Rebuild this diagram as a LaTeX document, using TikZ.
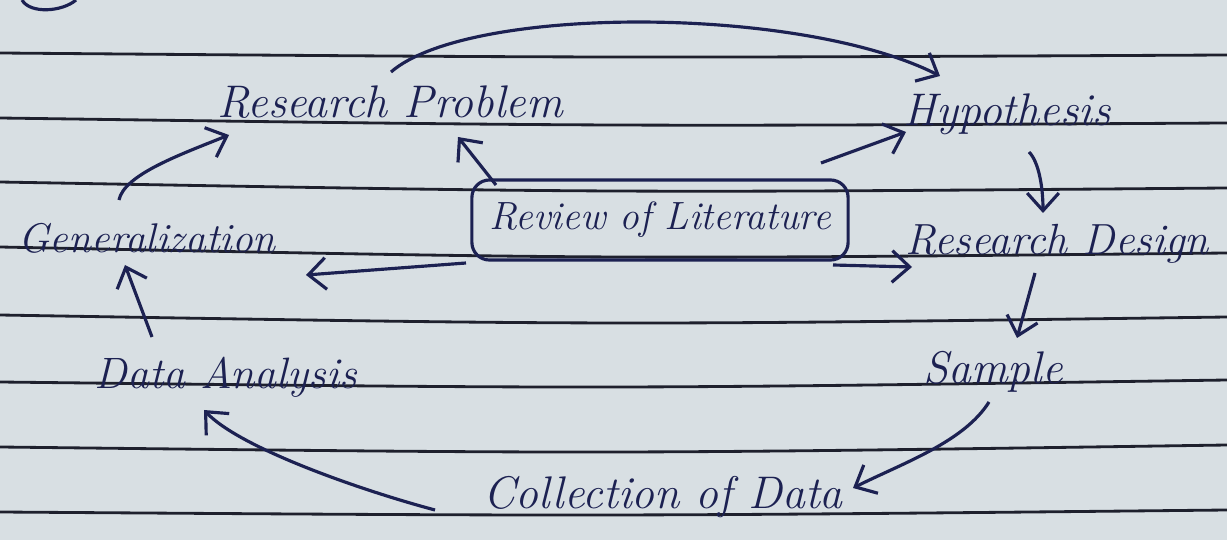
\documentclass[tikz,border=0pt]{standalone}
\usepackage{tikz}
\usetikzlibrary{arrows.meta,calc}
\definecolor{paper}{RGB}{216,223,227}
\definecolor{ink}{RGB}{28,33,82}
\definecolor{ruling}{RGB}{30,32,45}
\tikzset{>/.tip={Straight Barb[length=5pt,width=9pt]}}

\begin{document}
\begin{tikzpicture}[x=0.01cm,y=-0.01cm,
  stage/.style={text=ink, font=\fontsize{13}{15}\selectfont\itshape, inner sep=1pt},
  flow/.style={->, draw=ink, line width=0.9pt}]
\fill[paper] (0,0) rectangle (1227,540);
\useasboundingbox (0,0) rectangle (1227,540);
\foreach \a/\m/\c in {53/58/55, 118/126.5/123, 182/193/188, 247/259.3/253,
                      315/325.3/317, 382/389/380, 447/454/445, 512/516.3/510}
  \draw[ruling, line width=0.8pt] (0,\a) .. controls (613,\m) .. (1227,\c);
\draw[ink, line width=0.9pt] (22,0) .. controls (30,14) and (62,12) .. (76,0);

\node[stage] (prob) at (390,102) {Research Problem};
\node[stage] (hyp) at (1007,114) {Hypothesis};
\node[stage, font=\fontsize{11.8}{14}\selectfont\itshape] (gen) at (147,238) {Generalization};
\node[stage, font=\fontsize{12.4}{14}\selectfont\itshape] (design) at (1057,244) {Research Design};
\node[stage] (sample) at (993,372) {Sample};
\node[stage, font=\fontsize{12.5}{14}\selectfont\itshape] (analysis) at (226,377) {Data Analysis};
\node[stage] (collect) at (663,497) {Collection of Data};
\node[stage, font=\fontsize{11.2}{14}\selectfont\itshape, draw=ink, line width=0.9pt,
      rounded corners=5pt, minimum width=3.76cm, minimum height=0.8cm] (lit) at (660,220) {Review of Literature};

\draw[flow] ($(prob)+(1,-30)$) .. controls +(77,-67) and +(-140,-71) .. ($(hyp)+(-67,-38)$);
\draw[flow] ($(hyp)+(22,38)$) .. controls +(10,10) and +(0,-25) .. ($(design)+(-14,-31)$);
\draw[flow] ($(design)+(-22,29)$) -- ($(sample)+(24,-34)$);
\draw[flow] ($(sample)+(-4,30)$) .. controls +(-25,40) and +(50,-25) .. ($(collect)+(190,-9)$);
\draw[flow] ($(collect)+(-228,13)$) .. controls +(-75,-20) and +(36,38) .. ($(analysis)+(-22,33)$);
\draw[flow] ($(analysis)+(-74,-40)$) -- ($(gen)+(-22,27)$);
\draw[flow] ($(gen)+(-28,-38)$) .. controls +(5,-25) and +(-50,20) .. ($(prob)+(-161,33)$);

\draw[flow] ($(lit)+(-164,-35)$) -- ($(prob)+(68,35)$);
\draw[flow] ($(lit)+(161,-57)$) -- ($(hyp)+(-101,18)$);
\draw[flow] ($(lit)+(-194,43)$) -- ($(gen)+(159,37)$);
\draw[flow] ($(lit)+(173,45)$) -- ($(design)+(-145,23)$);
\end{tikzpicture}
\end{document}
